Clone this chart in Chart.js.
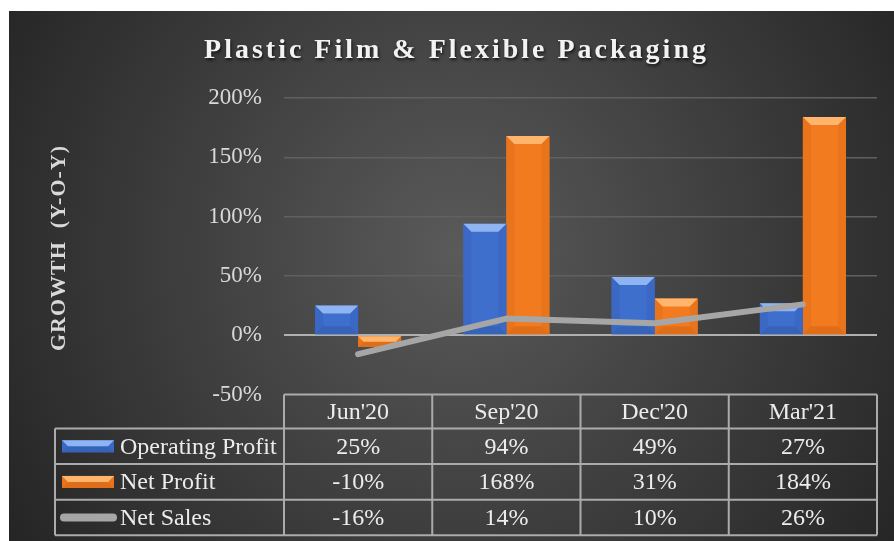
<!DOCTYPE html>
<html>
<head>
<meta charset="utf-8">
<script src="https://cdn.jsdelivr.net/npm/chart.js@4"></script>
<style>
  html, body { margin: 0; padding: 0; background: #fff; }
  #wrap { position: absolute; left: 9px; top: 11px; width: 885px; height: 530px; }
</style>
</head>
<body>
<div id="wrap"><canvas id="growth" width="885" height="530"></canvas></div>
<script>
// quarters and YoY growth (%)
var categories = ["Jun'20", "Sep'20", "Dec'20", "Mar'21"];
var seriesNames = ["Operating Profit", "Net Profit", "Net Sales"];
var operatingProfit = [25, 94, 49, 27];
var netProfit = [-10, 168, 31, 184];
var netSales = [-16, 14, 10, 26];
var yTicks = [-50, 0, 50, 100, 150, 200];

var SERIF = '"Liberation Serif", "Times New Roman", serif';

// colours for the bevelled bars: body, top, sides, bottom
var blue = { body: '#3f6fcd', top: '#8fb4f2', side: '#3a68c4', bottom: '#3663b8' };
var orange = { body: '#f27a1f', top: '#ffb56c', side: '#ea741b', bottom: '#e06e18' };

// radial grey background
var bgPlugin = {
    id: 'bg',
    beforeDraw: function (chart) {
        var ctx = chart.ctx;
        var g = ctx.createRadialGradient(450, 240, 0, 450, 240, 560);
        g.addColorStop(0, '#5a5a5a');
        g.addColorStop(1, '#222222');
        ctx.save();
        ctx.fillStyle = g;
        ctx.fillRect(0, 0, chart.width, chart.height);
        ctx.restore();
    }
};

// lighter/darker facets on each bar, like the office bevel effect
function bevel(ctx, left, top, right, bottom, c) {
    var b = Math.min(8, (bottom - top) / 2, (right - left) / 2);
    ctx.fillStyle = c.side;
    ctx.beginPath();
    ctx.moveTo(left, top); ctx.lineTo(left + b, top + b); ctx.lineTo(left + b, bottom - b); ctx.lineTo(left, bottom);
    ctx.closePath(); ctx.fill();
    ctx.beginPath();
    ctx.moveTo(right, top); ctx.lineTo(right - b, top + b); ctx.lineTo(right - b, bottom - b); ctx.lineTo(right, bottom);
    ctx.closePath(); ctx.fill();
    ctx.fillStyle = c.bottom;
    ctx.beginPath();
    ctx.moveTo(left, bottom); ctx.lineTo(left + b, bottom - b); ctx.lineTo(right - b, bottom - b); ctx.lineTo(right, bottom);
    ctx.closePath(); ctx.fill();
    ctx.fillStyle = c.top;
    ctx.beginPath();
    ctx.moveTo(left, top); ctx.lineTo(right, top); ctx.lineTo(right - b, top + b); ctx.lineTo(left + b, top + b);
    ctx.closePath(); ctx.fill();
}

var bevelPlugin = {
    id: 'bevel',
    afterDatasetDraw: function (chart, args) {
        var meta = args.meta;
        if (meta.type !== 'bar') return;
        var c = meta.label === seriesNames[0] ? blue : orange;
        var ctx = chart.ctx;
        ctx.save();
        meta.data.forEach(function (bar) {
            var p = bar.getProps(['x', 'y', 'base', 'width'], true);
            var top = Math.min(p.y, p.base), bottom = Math.max(p.y, p.base);
            bevel(ctx, p.x - p.width / 2, top, p.x + p.width / 2, bottom, c);
        });
        ctx.restore();
    }
};

// title and vertical axis title (drawn by hand for the letter spacing)
var titlePlugin = {
    id: 'titles',
    afterDraw: function (chart) {
        var ctx = chart.ctx;
        ctx.save();
        ctx.shadowColor = 'rgba(0,0,0,0.7)';
        ctx.shadowBlur = 3;
        ctx.shadowOffsetX = 1;
        ctx.shadowOffsetY = 2;
        ctx.fillStyle = '#f2f2f2';
        ctx.font = 'bold 28px ' + SERIF;
        ctx.letterSpacing = '3px';
        ctx.textAlign = 'center';
        ctx.textBaseline = 'alphabetic';
        ctx.fillText('Plastic Film & Flexible Packaging', chart.width / 2 + 5, 47);
        ctx.shadowColor = 'transparent';
        ctx.fillStyle = '#d9d9d9';
        ctx.font = 'bold 22px ' + SERIF;
        ctx.letterSpacing = '1px';
        ctx.translate(50, 237);
        ctx.rotate(-Math.PI / 2);
        ctx.textBaseline = 'middle';
        ctx.fillText('GROWTH  (Y-O-Y)', 0, 0);
        ctx.restore();
    }
};

// data table under the plot, columns follow the category scale
var tablePlugin = {
    id: 'dataTable',
    afterDraw: function (chart) {
        var ctx = chart.ctx;
        var area = chart.chartArea;
        var xs = chart.scales.x;
        var n = categories.length;
        var cw = (area.right - area.left) / n;
        var top = area.bottom;
        var headH = 34, rowH = 35.6, tableLeft = 46;
        var rows = [operatingProfit, netProfit, netSales];
        var bottom = top + headH + rows.length * rowH;

        ctx.save();
        ctx.strokeStyle = '#ababab';
        ctx.lineWidth = 2;
        ctx.beginPath();
        ctx.moveTo(area.left, top); ctx.lineTo(area.right, top);
        for (var k = 0; k <= rows.length; k++) {
            var yy = top + headH + k * rowH;
            ctx.moveTo(tableLeft, yy); ctx.lineTo(area.right, yy);
        }
        for (var i = 0; i <= n; i++) {
            var xx = area.left + i * cw;
            ctx.moveTo(xx, top); ctx.lineTo(xx, bottom);
        }
        ctx.moveTo(tableLeft, top + headH); ctx.lineTo(tableLeft, bottom);
        ctx.stroke();

        ctx.fillStyle = '#ececec';
        ctx.font = '24px ' + SERIF;
        ctx.textAlign = 'center';
        ctx.textBaseline = 'middle';
        categories.forEach(function (c, i) {
            ctx.fillText(c, xs.getPixelForValue(i), top + headH / 2 + 1);
        });
        rows.forEach(function (vals, r) {
            var cy = top + headH + r * rowH + rowH / 2 + 1;
            vals.forEach(function (v, i) {
                ctx.fillText(v + '%', xs.getPixelForValue(i), cy);
            });
        });

        // legend keys
        rows.forEach(function (vals, r) {
            var cy = top + headH + r * rowH + rowH / 2;
            if (r < 2) {
                var c = r === 0 ? blue : orange;
                ctx.fillStyle = c.body;
                ctx.fillRect(53, cy - 6, 52, 12);
                bevel(ctx, 53, cy - 6, 105, cy + 6, c);
            } else {
                ctx.strokeStyle = '#a6a6a6';
                ctx.lineWidth = 8;
                ctx.lineCap = 'round';
                ctx.beginPath();
                ctx.moveTo(55, cy); ctx.lineTo(104, cy);
                ctx.stroke();
            }
            ctx.fillStyle = '#ececec';
            ctx.textAlign = 'left';
            ctx.fillText(seriesNames[r], 111, cy + 1);
        });
        ctx.restore();
    }
};

var ctx = document.getElementById('growth');
var myChart = new Chart(ctx, {
    type: 'bar',
    data: {
        labels: categories,
        datasets: [{
            type: 'line',
            label: seriesNames[2],
            data: netSales,
            borderColor: '#a6a6a6',
            borderWidth: 6,
            borderCapStyle: 'round',
            borderJoinStyle: 'round',
            pointRadius: 0,
            tension: 0,
            order: -1
        }, {
            label: seriesNames[0],
            data: operatingProfit,
            backgroundColor: blue.body,
            borderWidth: 0,
            categoryPercentage: 0.58,
            barPercentage: 1
        }, {
            label: seriesNames[1],
            data: netProfit,
            backgroundColor: orange.body,
            borderWidth: 0,
            categoryPercentage: 0.58,
            barPercentage: 1
        }]
    },
    options: {
        responsive: false,
        animation: false,
        devicePixelRatio: 1,
        layout: { padding: { top: 87, right: 17, bottom: 146.5, left: 0 } },
        plugins: {
            legend: { display: false },
            tooltip: { enabled: false },
            title: { display: false }
        },
        scales: {
            x: { display: false, offset: true },
            y: {
                min: yTicks[0],
                max: yTicks[yTicks.length - 1],
                afterBuildTicks: function (s) {
                    s.ticks = yTicks.map(function (v) { return { value: v }; });
                },
                afterFit: function (s) { s.width = 275; },
                border: { display: false },
                grid: {
                    drawTicks: false,
                    color: function (c) {
                        if (c.tick.value === 0) return '#b0b0b0';
                        if (c.tick.value === yTicks[0]) return 'rgba(0,0,0,0)';
                        return '#606060';
                    },
                    lineWidth: function (c) { return c.tick.value === 0 ? 2 : 1.5; }
                },
                ticks: {
                    padding: 22,
                    color: '#d9d9d9',
                    font: { family: SERIF, size: 23 },
                    callback: function (v) { return v + '%'; }
                }
            }
        }
    },
    plugins: [bgPlugin, bevelPlugin, titlePlugin, tablePlugin]
});
</script>
</body>
</html>
